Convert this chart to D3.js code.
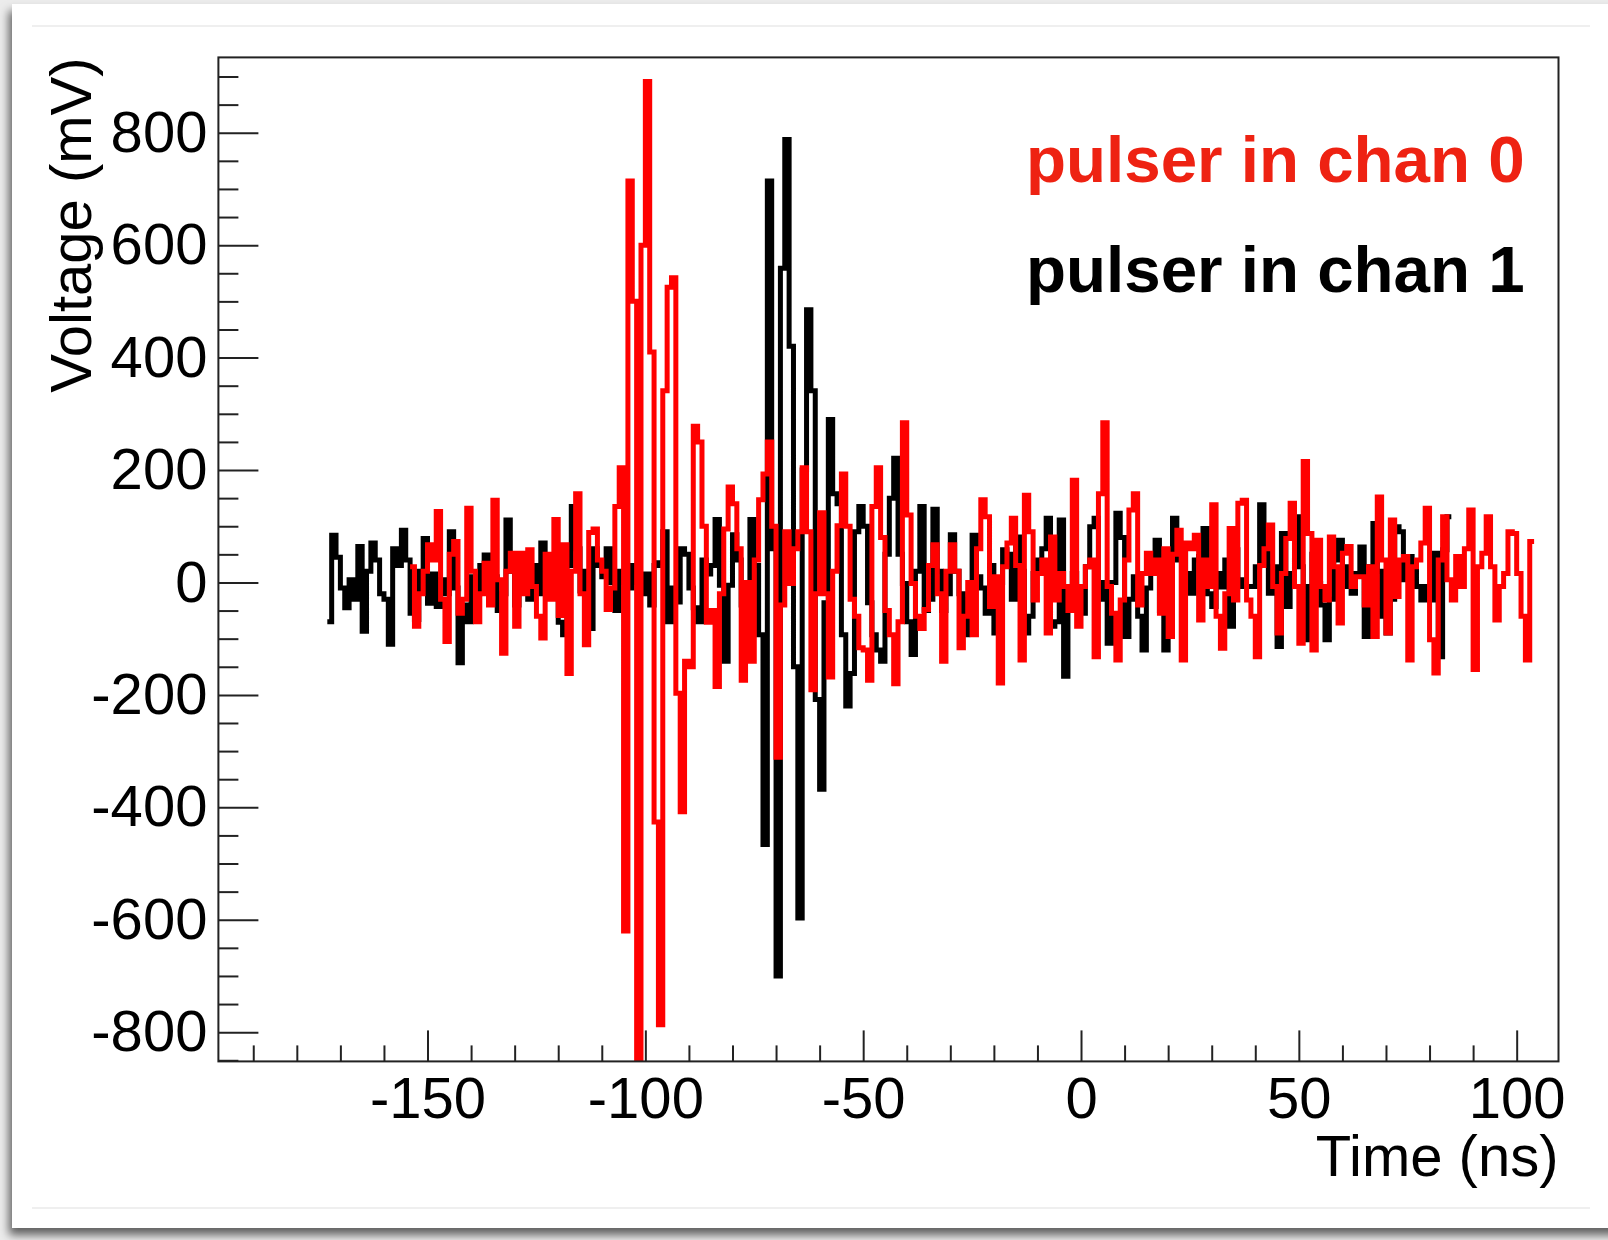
<!DOCTYPE html>
<head>
  <meta charset="utf-8">
  <title>Pulser waveforms</title>
  <style>
    body { margin: 0; background: #ececec; }
    svg { display: block; }
    text { font-family: "Liberation Sans", Arial, Helvetica, sans-serif; }
  </style>
</head>
<body>

<script src="https://d3js.org/d3.v7.min.js"></script>

<script>
// Waveforms (mV), one sample per ns starting at the given time
var chan1Start = -173, chan0Start = -154, sampleStep = 1;

var chan1Volts = [
  -70, 84, 45, -10, -45, 5, -30, 64, -87, 20,
  70, 40, -20, -30, -110, 60, 30, 93, 40, -55,
  -66, 20, 78, -37, 15, -43, 5, -20, 90, -10,
  -143, -40, -70, 10, -20, 30, 49, -30, 10, -50,
  -20, 111, 20, -40, 0, 5, -30, 30, -20, 70,
  5, -20, 10, -71, -93, 30, 135, 60, -15, 20,
  -82, 60, 30, 10, 60, 0, -50, 20, 0, -10,
  30, 0, -20, 15, -40, 30, 35, 90, -70, -10,
  -35, 60, 50, -10, -45, -70, 40, 15, 30, 112,
  -5, -140, -5, 85, 40, -40, -10, 112, 30, -93,
  -466, 714, 60, -700, 559, 788, 420, -150, -597, 200,
  485, 341, -208, -368, -36, 290, 158, 140, -93, -220,
  -162, 90, 135, 100, -36, -93, -120, -140, 50, 150,
  221, 50, -2, -70, -128, 20, 135, -50, -30, 130,
  20, -50, -20, 85, 20, -20, -93, -30, 84, 10,
  -10, -55, 30, -90, 0, 58, 50, -30, 81, 20,
  -90, -60, 16, 40, 60, 114, -78, -70, 111, -167,
  -30, 16, -30, -55, 28, 99, 114, -30, 0, -108,
  0, 123, 80, -96, -30, 10, -60, -120, -10, 40,
  75, -50, -120, 20, 114, 40, 57, 16, -19, 40,
  46, 96, -20, -43, 16, -8, 40, -78, 58, 5,
  -7, -7, -7, 28, 138, 57, -19, 28, -114, 87,
  -43, 16, 117, 28, -7, -102, 50, -2, -40, -102,
  -30, 40, 75, 28, -7, -19, 16, 63, -96, 28,
  105, 20, -60, -90, -30, 99, 90, 5, 46, 35,
  -7, -31, -7, -31, 52, -132, 58, 117
];

var chan0Volts = [
  28, -78, -20, 20, 67, 40, 126, -30, -105, 50,
  73, -55, -30, 132, 20, -70, -20, 34, -40, 146,
  5, -126, 20, 52, -78, 52, -20, 58, -7, -60,
  -99, 50, -30, 112, -59, 67, -162, 20, 158, -20,
  -111, 89, 95, 40, 20, -48, -10, 135, 204, -620,
  714, 500, -900, 600, 891, 410, -426, -787, 341, 525,
  542, -197, -408, -140, -150, 278, 250, 100, -71, -50,
  -185, -20, 95, 170, 140, 60, -174, 0, -140, 40,
  147, 193, 250, 100, -311, -40, 90, -2, 60, 90,
  204, 90, -191, -20, 124, -20, -168, 20, 101, 193,
  100, -30, -60, -116, -120, -174, 135, 204, 80, -50,
  -93, -180, -70, 284, 120, -2, -60, -82, -48, 30,
  67, -20, -140, 20, 67, 20, -116, -60, 0, -93,
  60, 147, 117, -43, 10, -179, 28, 70, 114, 30,
  -138, 155, 90, -31, 16, 40, -90, 81, -31, 16,
  -7, -50, 182, -78, -7, 28, 40, -132, 158, 284,
  -7, -55, -138, -31, 40, 129, 158, -40, 16, 52,
  16, 40, -55, 60, -96, 50, 93, -138, 70, 60,
  84, -67, 40, -7, 138, -60, -117, -20, 96, -31,
  141, 146, -31, -60, -132, 30, 60, 102, -7, -90,
  16, 78, 141, -7, -108, 215, 87, -120, 75, -7,
  -31, 81, 28, -72, 52, 64, -7, 10, 10, -40,
  28, -96, 152, 40, -90, 111, -25, 40, 46, -138,
  28, 40, 70, 132, -102, -161, 40, 117, 5, -31,
  46, -7, 60, 129, -155, 28, 52, 117, 28, -67,
  -7, 16, 90, 87, 16, -60, -138, 73
];

var xTickLabels = [-150, -100, -50, 0, 50, 100];
var yTickLabels = [-800, -600, -400, -200, 0, 200, 400, 600, 800];
var legendLabels = ["pulser in chan 0", "pulser in chan 1"];
var legendColors = ["#ee2212", "#000000"];
var traceColors = ["#ff0000", "#000000"];

var W = 1608, H = 1240;
var frame = {left: 218.4, right: 1558.5, top: 57.4, bottom: 1061.4};

var svg = d3.select("body").append("svg")
    .attr("width", W)
    .attr("height", H);

var defs = svg.append("defs");

// drop shadow of the slide card
defs.append("filter")
    .attr("id", "shadow")
    .attr("x", "-5%").attr("y", "-5%")
    .attr("width", "110%").attr("height", "110%")
  .append("feDropShadow")
    .attr("dx", -3).attr("dy", 7)
    .attr("stdDeviation", 5)
    .attr("flood-color", "#000")
    .attr("flood-opacity", 0.6);

defs.append("clipPath")
    .attr("id", "plotclip")
  .append("rect")
    .attr("x", frame.left)
    .attr("y", frame.top)
    .attr("width", frame.right - frame.left)
    .attr("height", frame.bottom - frame.top);

svg.append("rect")
    .attr("x", 12).attr("y", 4)
    .attr("width", 1660).attr("height", 1224)
    .attr("fill", "#fff")
    .attr("filter", "url(#shadow)");

// faint guide lines of the slide
[26, 1208].forEach(function(yy) {
  svg.append("line")
      .attr("x1", 32).attr("x2", 1590)
      .attr("y1", yy).attr("y2", yy)
      .attr("stroke", "#efefef")
      .attr("stroke-width", 2);
});

var x = d3.scaleLinear().domain([-198, 109.6]).range([frame.left, frame.right]);
var y = d3.scaleLinear().domain([-852, 934]).range([frame.bottom, frame.top]);

function toPoints(start, volts) {
  var pts = volts.map(function(v, i) { return [start + i * sampleStep, v]; });
  // close the last bin
  pts.push([start + volts.length * sampleStep, volts[volts.length - 1]]);
  return pts;
}

var line = d3.line()
    .x(function(d) { return x(d[0]); })
    .y(function(d) { return y(d[1]); })
    .curve(d3.curveStepAfter);

var traces = [
  {pts: toPoints(chan1Start, chan1Volts), color: traceColors[1]},
  {pts: toPoints(chan0Start, chan0Volts), color: traceColors[0]}
];

svg.append("g")
    .attr("clip-path", "url(#plotclip)")
  .selectAll("path")
    .data(traces)
  .enter().append("path")
    .attr("d", function(d) { return line(d.pts); })
    .attr("fill", "none")
    .attr("stroke", function(d) { return d.color; })
    .attr("stroke-width", 5)
    .attr("stroke-linejoin", "miter");

// frame
svg.append("rect")
    .attr("x", frame.left)
    .attr("y", frame.top)
    .attr("width", frame.right - frame.left)
    .attr("height", frame.bottom - frame.top)
    .attr("fill", "none")
    .attr("stroke", "#222")
    .attr("stroke-width", 2);

function styleAxis(g) {
  g.select(".domain").remove();
  g.selectAll(".tick line").attr("stroke", "#222").attr("stroke-width", 2);
  g.selectAll(".tick text")
      .attr("fill", "#000")
      .style("font-size", "58px");
}

// y axis: minor ticks every 50, major every 200
var yMinor = d3.range(-850, 901, 50).filter(function(v) { return v % 200 !== 0; });
svg.append("g")
    .attr("transform", "translate(" + frame.left + ",0)")
    .call(d3.axisLeft(y).tickValues(yMinor).tickSize(-20).tickFormat(""))
    .call(styleAxis);
svg.append("g")
    .attr("transform", "translate(" + frame.left + ",0)")
    .call(d3.axisLeft(y).tickValues(yTickLabels).tickSize(-40).tickPadding(11)
      .tickFormat(function(d) { return String(d); }))
    .call(styleAxis);

// x axis: minor ticks every 10, major every 50
var xMinor = d3.range(-190, 101, 10).filter(function(v) { return v % 50 !== 0; });
svg.append("g")
    .attr("transform", "translate(0," + frame.bottom + ")")
    .call(d3.axisBottom(x).tickValues(xMinor).tickSize(-16).tickFormat(""))
    .call(styleAxis);
svg.append("g")
    .attr("transform", "translate(0," + frame.bottom + ")")
    .call(d3.axisBottom(x).tickValues(xTickLabels).tickSize(-31).tickPadding(15)
      .tickFormat(function(d) { return String(d); }))
    .call(styleAxis);

// axis titles
svg.append("text")
    .attr("x", frame.right)
    .attr("y", 1176)
    .attr("text-anchor", "end")
    .style("font-size", "58px")
    .text("Time (ns)");

svg.append("text")
    .attr("transform", "translate(91," + frame.top + ") rotate(-90)")
    .attr("text-anchor", "end")
    .style("font-size", "58px")
    .text("Voltage (mV)");

// legend
svg.selectAll(".legend")
    .data(legendLabels)
  .enter().append("text")
    .attr("class", "legend")
    .attr("x", 1026)
    .attr("y", function(d, i) { return 182 + i * 110; })
    .attr("fill", function(d, i) { return legendColors[i]; })
    .style("font-size", "65.5px")
    .style("font-weight", "bold")
    .text(function(d) { return d; });
</script>
</body>
